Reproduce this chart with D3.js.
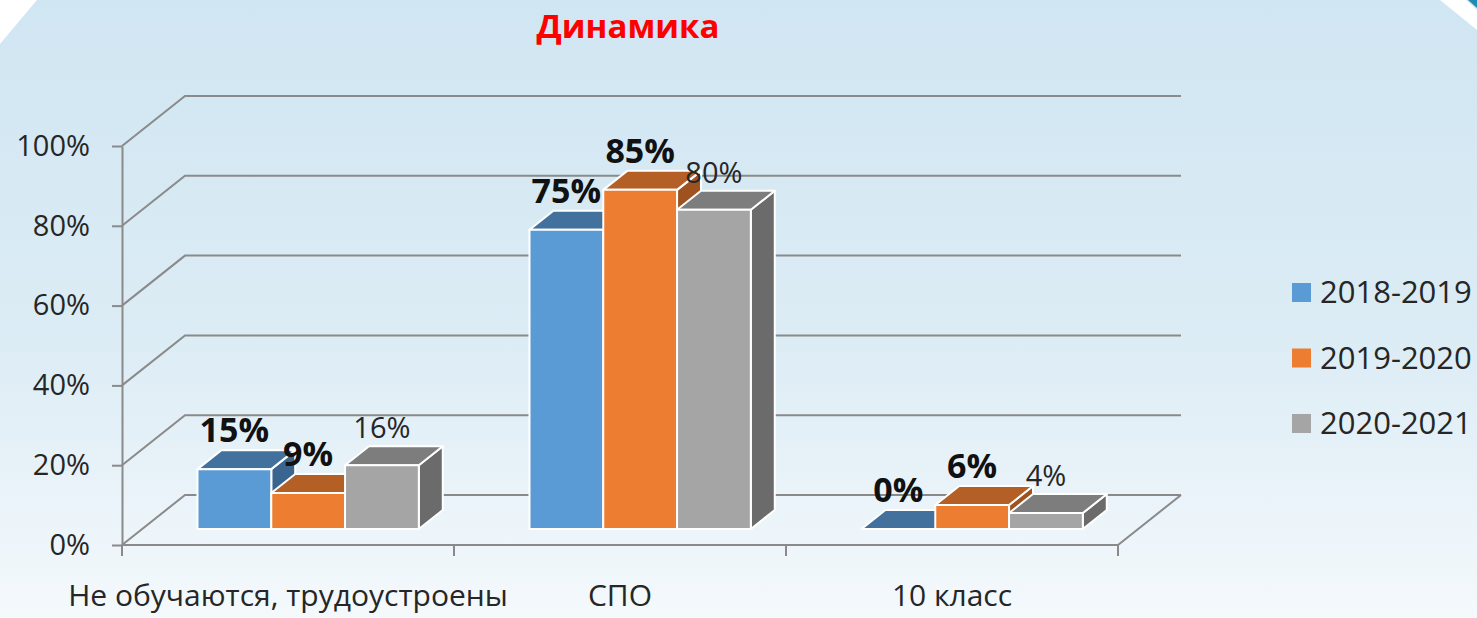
<!DOCTYPE html>
<html>
<head>
<meta charset="utf-8">
<script src="https://cdn.jsdelivr.net/npm/d3@7"></script>
<style>
  body { margin: 0; overflow: hidden; }
  text { font-family: 'Open Sans', sans-serif; }
</style>
</head>
<body>
<svg id="chart" width="1477" height="618"></svg>
<script>
// data
const categories = ['Не обучаются, трудоустроены', 'СПО', '10 класс']
const seriesNames = ['2018-2019', '2019-2020', '2020-2021']
const values2018 = [0.15, 0.75, 0]
const values2019 = [0.09, 0.85, 0.06]
const values2020 = [0.16, 0.80, 0.04]
const yTicks = [0, 0.2, 0.4, 0.6, 0.8, 1]

const series = [values2018, values2019, values2020]
const colors = [
    { front: '#5b9bd5', top: '#41719c', side: '#3a658e' },
    { front: '#ed7d31', top: '#b45f25', side: '#9e521f' },
    { front: '#a5a5a5', top: '#7d7d7d', side: '#6b6b6b' }
]
const labelStyle = [
    { weight: 'bold', size: 34 },
    { weight: 'bold', size: 34 },
    { weight: 'normal', size: 29 }
]

const W = 1477, H = 618
const svg = d3.select('#chart')

// background
const defs = svg.append('defs')
const bg = defs.append('linearGradient').attr('id', 'bg')
    .attr('x1', 0).attr('y1', 0).attr('x2', 0).attr('y2', 1)
bg.append('stop').attr('offset', '0%').attr('stop-color', '#d0e6f2')
bg.append('stop').attr('offset', '55%').attr('stop-color', '#dcecf5')
bg.append('stop').attr('offset', '100%').attr('stop-color', '#f4f9fc')
svg.append('rect').attr('width', W).attr('height', H).attr('fill', 'url(#bg)')
svg.append('path').attr('d', 'M0,0 L37,0 L0,44 Z').attr('fill', '#ffffff')
svg.append('path').attr('d', 'M1440,0 L1466,0 L1477,10 L1477,30 Z').attr('fill', '#ffffff')
svg.append('path').attr('d', 'M1468,0 L1477,0 L1477,8 Z').attr('fill', '#1b8db3')

// frame geometry
const x0 = 122, x1 = 1118
const depth = { dx: 63, dy: -50 }
const barZ0 = 0.32, barZ1 = 0.70
const proj = (x, y, z) => [x + z * depth.dx, y + z * depth.dy]

const xScale = d3.scaleBand().domain(categories).range([x0, x1])
const bw = xScale.bandwidth()
const xSer = d3.scaleBand().domain(seriesNames).range([bw / 6, bw * 5 / 6])
const yScale = d3.scaleLinear().domain([0, 1]).range([545, 146])

const lineColor = '#8a8a8a'
const grid = svg.append('g')
    .attr('fill', 'none').attr('stroke', lineColor).attr('stroke-width', 2)

// back wall gridlines with left diagonal
yTicks.forEach(t => {
    const y = yScale(t)
    const a = proj(x0, y, 0), b = proj(x0, y, 1), c = proj(x1, y, 1)
    grid.append('path').attr('d', d3.line()([a, b, c]))
})
// floor front and right edges
grid.append('path').attr('d', d3.line()([
    proj(x0, yScale(0), 0), proj(x1, yScale(0), 0), proj(x1, yScale(0), 1)
]))

// y axis
const yAxis = svg.append('g')
    .attr('transform', `translate(${x0},0)`)
    .call(d3.axisLeft(yScale).tickValues(yTicks).tickFormat(d3.format('.0%'))
        .tickSizeInner(10).tickSizeOuter(0).tickPadding(22))
yAxis.select('.domain').attr('stroke', lineColor).attr('stroke-width', 2)
yAxis.selectAll('.tick line').attr('stroke', lineColor).attr('stroke-width', 2)
yAxis.selectAll('.tick text')
    .attr('font-size', 29).attr('fill', '#262626')
    .attr('font-family', "'Open Sans', sans-serif")

// x axis ticks and labels
const xAxis = svg.append('g')
xAxis.selectAll('line').data(d3.range(categories.length + 1))
    .join('line')
    .attr('x1', i => x0 + i * bw).attr('x2', i => x0 + i * bw)
    .attr('y1', yScale(0)).attr('y2', yScale(0) + 11)
    .attr('stroke', lineColor).attr('stroke-width', 2)
xAxis.selectAll('text').data(categories)
    .join('text')
    .attr('x', d => xScale(d) + bw / 2)
    .attr('y', 606)
    .attr('text-anchor', 'middle')
    .attr('font-size', 30)
    .attr('fill', '#262626')
    .text(d => d)

// bars
const bars = svg.append('g')
categories.forEach((cat, ci) => {
    series.forEach((vals, si) => {
        const v = vals[ci]
        const bx = xScale(cat) + xSer(seriesNames[si])
        const w = xSer.bandwidth()
        const yt = yScale(v), yb = yScale(0)
        const col = colors[si]
        const g = bars.append('g').attr('stroke', '#ffffff').attr('stroke-width', 2)
            .attr('stroke-linejoin', 'round')
        g.append('path').attr('fill', col.side)
            .attr('d', d3.line()([proj(bx + w, yt, barZ0), proj(bx + w, yt, barZ1),
                proj(bx + w, yb, barZ1), proj(bx + w, yb, barZ0)]) + 'Z')
        g.append('path').attr('fill', col.top)
            .attr('d', d3.line()([proj(bx, yt, barZ0), proj(bx + w, yt, barZ0),
                proj(bx + w, yt, barZ1), proj(bx, yt, barZ1)]) + 'Z')
        if (v > 0) {
            g.append('path').attr('fill', col.front)
                .attr('d', d3.line()([proj(bx, yt, barZ0), proj(bx + w, yt, barZ0),
                    proj(bx + w, yb, barZ0), proj(bx, yb, barZ0)]) + 'Z')
        }
    })
})

// value labels
const labels = svg.append('g')
categories.forEach((cat, ci) => {
    series.forEach((vals, si) => {
        const v = vals[ci]
        const bx = xScale(cat) + xSer(seriesNames[si]) + xSer.bandwidth() / 2
        const p = proj(bx, yScale(v), barZ0)
        const pb = proj(bx, yScale(v), barZ1)
        labels.append('text')
            .attr('x', p[0])
            .attr('y', pb[1] - 8)
            .attr('text-anchor', 'middle')
            .attr('font-size', labelStyle[si].size)
            .attr('font-weight', labelStyle[si].weight)
            .attr('fill', si < 2 ? '#111111' : '#262626')
            .text(d3.format('.0%')(v))
    })
})

// legend
const legend = svg.append('g').attr('transform', 'translate(1292,283)')
seriesNames.forEach((name, i) => {
    const row = legend.append('g').attr('transform', `translate(0,${i * 65.5})`)
    row.append('rect').attr('width', 19).attr('height', 19).attr('fill', colors[i].front)
    row.append('text').attr('x', 28).attr('y', 20)
        .attr('font-size', 31).attr('fill', '#262626').text(name)
})

// title
svg.append('text')
    .attr('x', 628).attr('y', 38)
    .attr('text-anchor', 'middle')
    .attr('font-size', 33).attr('font-weight', 'bold')
    .attr('fill', '#ff0000')
    .text('Динамика')
</script>
</body>
</html>
